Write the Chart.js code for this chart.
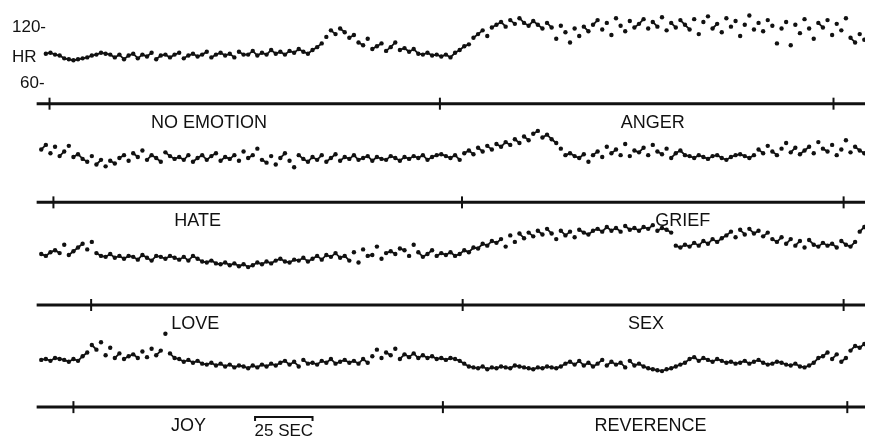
<!DOCTYPE html>
<html>
<head>
<meta charset="utf-8">
<script src="https://cdn.jsdelivr.net/npm/chart.js@4/dist/chart.umd.min.js"></script>
<style>
  html, body { margin: 0; padding: 0; background: #fff; }
  #wrap { width: 869px; height: 442px; }
</style>
</head>
<body>
<div id="wrap"><canvas id="hrChart" width="869" height="442"></canvas></div>
<script>
// heart rate (beats/min), one reading every 2 sec, starting at 2 sec
const noEmotionAnger = [
  null, 92, 93, 91, 90, 87, 86, 85, 86, 87,
  88, 90, 91, 93, 92, 91, 88, 91, 86, 90,
  92, 87, 91, 89, 93, 86, 90, 91, 88, 91,
  93, 87, 90, 92, 89, 91, 94, 88, 91, 93,
  90, 92, 88, 94, 91, 91, 95, 90, 93, 91,
  96, 92, 94, 91, 95, 93, 97, 94, 92, 96,
  99, 103, 110, 117, 113, 119, 115, 109, 112, 104,
  101, 108, 97, 100, 103, 95, 99, 104, 96, 98,
  94, 97, 92, 91, 93, 90, 91, 89, 91, 88,
  93, 96, 100, 102, 109, 113, 117, 111, 120, 123,
  126, 121, 128, 124, 130, 125, 122, 127, 123, 119,
  125, 120, 108, 122, 115, 104, 119, 111, 121, 116,
  123, 128, 118, 125, 112, 130, 122, 116, 127, 120,
  124, 129, 119, 126, 121, 131, 117, 125, 120, 128,
  123, 118, 129, 113, 126, 132, 119, 124, 115, 130,
  121, 127, 111, 123, 133, 118, 125, 116, 128, 122,
  103, 119, 126, 101, 123, 114, 129, 119, 108, 125,
  120, 128, 112, 124, 117, 130, 109, 104, 113, 107
];
const hateGrief = [
  95, 100, 91, 98, 88, 93, 99, 87, 90, 85,
  82, 88, 79, 84, 77, 83, 80, 86, 89, 83,
  91, 87, 94, 84, 89, 86, 82, 92, 88, 85,
  87, 84, 89, 82, 86, 89, 84, 88, 91, 83,
  87, 85, 89, 83, 93, 86, 89, 96, 84, 81,
  88, 79, 86, 91, 83, 76, 89, 85, 82, 87,
  84, 89, 82, 86, 90, 83, 87, 85, 89, 84,
  86, 88, 83, 87, 85, 84, 88, 86, 83, 87,
  85, 88, 86, 89, 84, 87, 89, 90, 88, 86,
  89, 84, 91, 94, 90, 97, 93, 99, 95, 101,
  98, 103, 100, 106, 102, 109, 105, 112, 115, 108,
  111, 106, 102, 96, 89, 91, 88, 86, 90, 82,
  89, 93, 87, 98, 91, 95, 89, 101, 88, 94,
  92, 97, 89, 100, 93, 90, 96, 86, 91, 94,
  89, 88, 86, 89, 87, 85, 88, 89, 86, 84,
  87, 89, 90, 88, 86, 89, 95, 91, 99, 93,
  89, 96, 102, 92, 97, 90, 94, 98, 91, 103,
  96, 93, 100, 89, 95, 105, 92, 98, 94, 91
];
const loveSex = [
  93, 91, 95, 97, 94, 103, 92, 96, 100, 104,
  98, 106, 94, 91, 90, 93, 89, 91, 88, 91,
  90, 87, 92, 89, 86, 91, 90, 88, 91, 89,
  87, 90, 86, 91, 88, 85, 84, 86, 83, 82,
  84, 81, 83, 80, 82, 79, 81, 84, 82, 85,
  83, 86, 88, 85, 84, 87, 86, 89, 85, 88,
  91, 87, 92, 90, 94, 89, 91, 86, 95, 84,
  98, 91, 92, 101, 88, 94, 96, 93, 99, 97,
  91, 103, 95, 90, 93, 97, 91, 94, 92, 95,
  91, 93, 97, 95, 100, 99, 104, 102, 107, 105,
  109, 101, 113, 106, 115, 110, 116, 112, 118, 114,
  120, 115, 109, 118, 113, 117, 111, 119, 116, 114,
  118, 120, 117, 122, 118, 121, 117, 123, 119, 121,
  118, 122, 120, 124, 118, 121, 119, 116, 102, 100,
  103, 101, 105, 102, 107, 104, 109, 106, 110, 113,
  117, 111, 119, 114, 120, 115, 118, 112, 116, 109,
  106, 111, 104, 109, 102, 107, 100, 108, 103, 101,
  105, 102, 104, 100, 107, 103, 101, 106, 117, 122
];
const joyReverence = [
  89, 90, 88, 91, 90, 89, 87, 90, 88, 93,
  97, 105, 100, 108, 94, 102, 91, 96, 90, 93,
  95, 91, 98, 92, 101, 94, 99, 117, 96, 91,
  90, 87, 89, 86, 88, 85, 84, 86, 83, 85,
  82, 84, 81, 83, 82, 80, 83, 81, 84, 82,
  85, 83, 86, 88, 84, 87, 82, 89, 85, 86,
  84, 88, 86, 90, 85, 87, 89, 86, 88, 85,
  90, 86, 93, 100, 91, 97, 94, 101, 90, 95,
  92, 96, 91, 94, 91, 93, 90, 91, 89, 91,
  90, 88, 85, 82, 81, 80, 82, 79, 81, 80,
  82, 81, 80, 83, 82, 81, 80, 79, 81, 80,
  82, 81, 80, 82, 85, 87, 84, 88, 83, 86,
  82, 85, 89, 83, 87, 84, 86, 81, 88, 83,
  85, 82, 80, 79, 78, 77, 79, 80, 82, 84,
  86, 90, 92, 88, 91, 89, 87, 90, 88, 86,
  87, 85, 86, 88, 85, 87, 89, 86, 84, 85,
  87, 86, 84, 83, 85, 82, 81, 83, 86, 91,
  93, 97, 90, 95, 87, 91, 99, 104, 102, 106
];
const traces = [noEmotionAnger, hateGrief, loveSex, joyReverence];

const emotions = [['NO EMOTION', 'ANGER'], ['HATE', 'GRIEF'], ['LOVE', 'SEX'], ['JOY', 'REVERENCE']];
const emotionCentres = [[75, 268], [70, 281], [69, 265], [66, 267]];   // sec
const segmentMarks = [[5.6, 175.4, 346.6], [7.3, 185, 351], [23.7, 185.3, 351], [16, 176.7, 352.6]];  // sec
const hrTicks = ['120-', '60-'];
const hrTickValues = [120, 60];
const scaleBar = [95, 120];   // 25 sec

const SAMPLE_STEP = 2;
const AXIS_HR = 38.4;                      // where each row's time line sits
const rowShift = [0, 105.8, 215.8, 325.3]; // stacks the four rows down the page
const ink = '#111';

document.addEventListener('DOMContentLoaded', function () {
    const datasets = traces.map((vals, k) => {
        const pts = [];
        vals.forEach((v, i) => {
            if (v !== null) pts.push({ x: (i + 1) * SAMPLE_STEP, y: v - rowShift[k] });
        });
        return {
            label: emotions[k].join(' / '),
            data: pts,
            backgroundColor: ink,
            borderColor: ink,
            borderWidth: 1.8,
            pointRadius: 2.2,
            pointBorderWidth: 0,
            showLine: true,
            // only join neighbouring beats that are close, big jumps stay as loose dots
            segment: {
                borderColor: c => Math.abs(c.p0.parsed.y - c.p1.parsed.y) > 5 ? 'rgba(0,0,0,0)' : ink
            }
        };
    });

    const figureInk = {
        id: 'figureInk',
        beforeDatasetsDraw(chart) {
            const ctx = chart.ctx;
            const x = chart.scales.x, y = chart.scales.y;
            ctx.save();
            ctx.strokeStyle = ink;
            ctx.fillStyle = ink;
            ctx.textAlign = 'center';
            ctx.textBaseline = 'middle';

            rowShift.forEach((shift, k) => {
                const yPix = y.getPixelForValue(AXIS_HR - shift);
                ctx.lineWidth = 3;
                ctx.beginPath();
                ctx.moveTo(x.getPixelForValue(0), yPix);
                ctx.lineTo(x.getPixelForValue(x.max), yPix);
                ctx.stroke();

                ctx.lineWidth = 2;
                segmentMarks[k].forEach(s => {
                    const px = x.getPixelForValue(s);
                    ctx.beginPath();
                    ctx.moveTo(px, yPix - 6);
                    ctx.lineTo(px, yPix + 6);
                    ctx.stroke();
                });

                ctx.font = '18px "Liberation Sans", Arial, sans-serif';
                emotions[k].forEach((name, j) => {
                    ctx.fillText(name, x.getPixelForValue(emotionCentres[k][j]), yPix + 19);
                });
            });

            // HR scale on the first row
            ctx.font = '17px "Liberation Sans", Arial, sans-serif';
            ctx.textAlign = 'left';
            ctx.fillText(hrTicks[0], 12, y.getPixelForValue(hrTickValues[0]));
            ctx.fillText('HR', 12, y.getPixelForValue(88));
            ctx.fillText(hrTicks[1], 20, y.getPixelForValue(hrTickValues[1]));

            // 25 sec bar under the last row
            const base = y.getPixelForValue(AXIS_HR - rowShift[3]) + 10;
            const x0 = x.getPixelForValue(scaleBar[0]), x1 = x.getPixelForValue(scaleBar[1]);
            ctx.lineWidth = 2;
            ctx.beginPath();
            ctx.moveTo(x0, base + 4); ctx.lineTo(x0, base); ctx.lineTo(x1, base); ctx.lineTo(x1, base + 4);
            ctx.stroke();
            ctx.textAlign = 'center';
            ctx.fillText('25 SEC', (x0 + x1) / 2, base + 14);
            ctx.restore();
        }
    };

    new Chart(document.getElementById('hrChart').getContext('2d'), {
        type: 'scatter',
        data: { datasets: datasets },
        options: {
            responsive: false,
            animation: false,
            layout: { padding: 0 },
            plugins: {
                legend: { display: false },
                tooltip: { enabled: false }
            },
            scales: {
                x: { type: 'linear', min: -14.2, max: 360.3, display: false },
                y: { type: 'linear', min: -320, max: 145.26, display: false }
            }
        },
        plugins: [figureInk]
    });
});
</script>
</body>
</html>
